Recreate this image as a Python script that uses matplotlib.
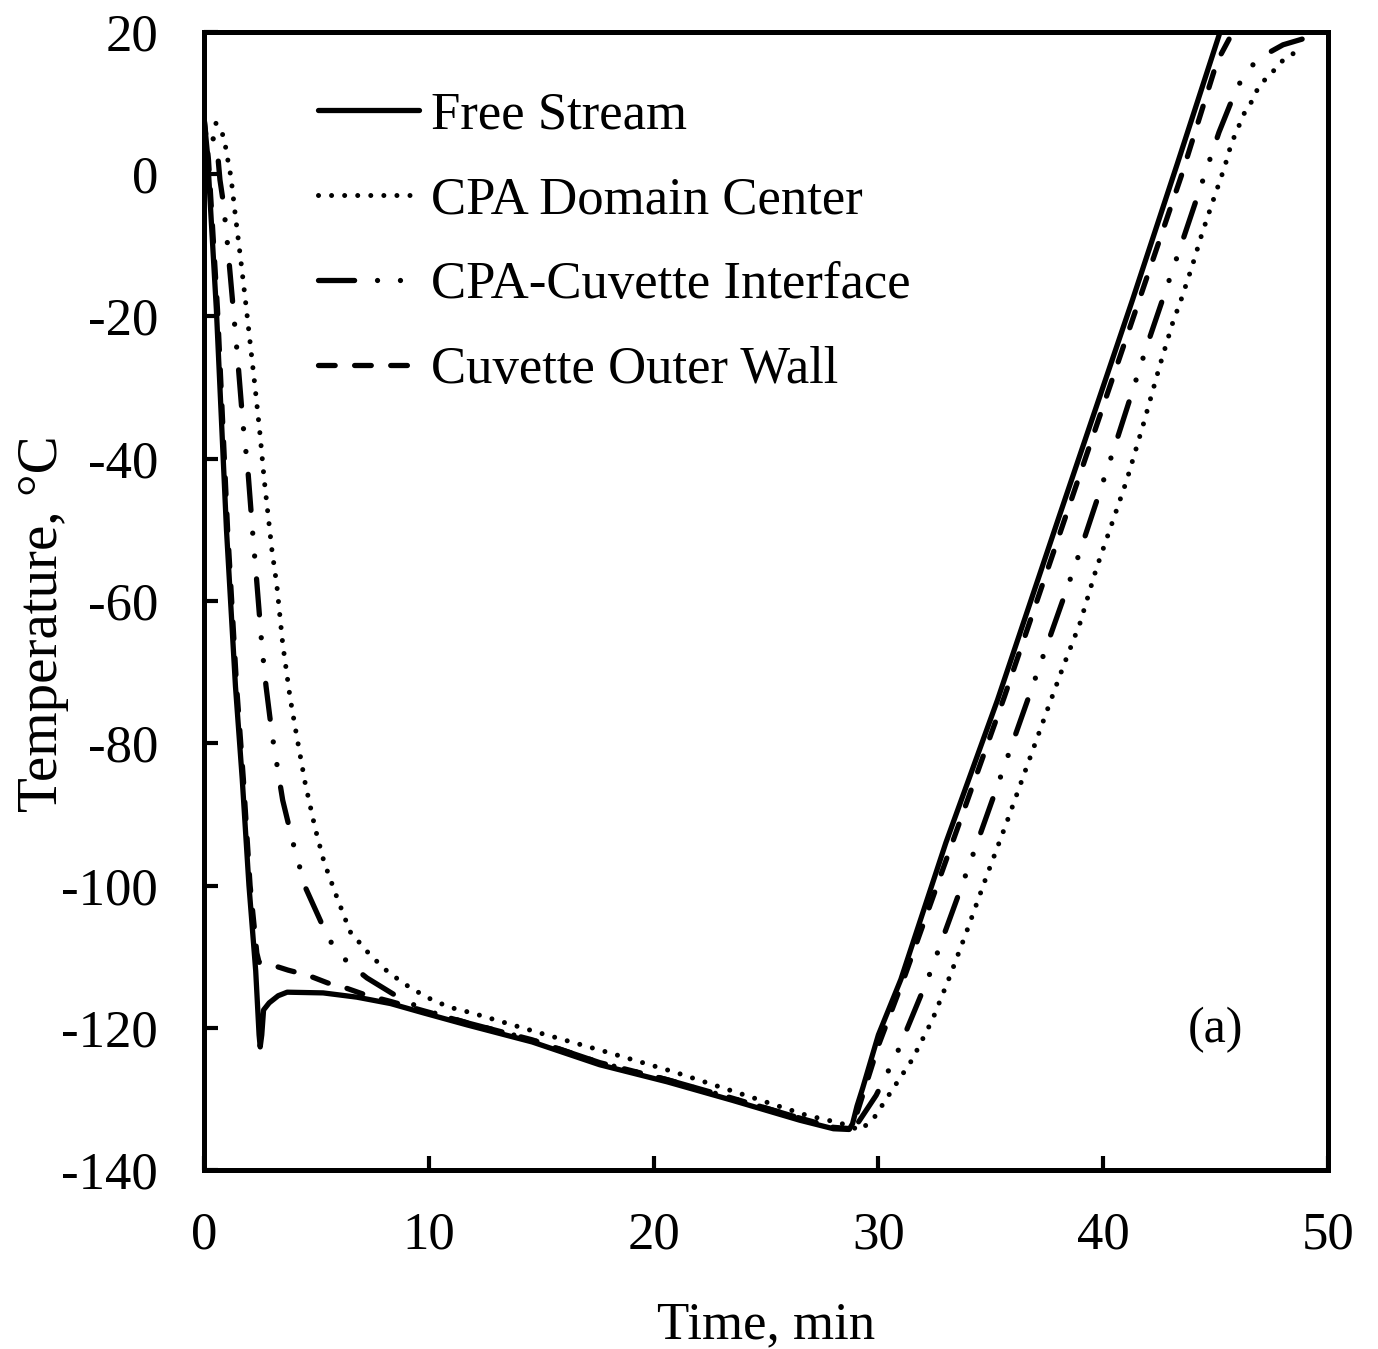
import numpy as np
import matplotlib
matplotlib.use("Agg")
import matplotlib.pyplot as plt
from matplotlib.lines import Line2D

# Free Stream (solid)
t_free = [0, 0.15, 0.55, 1.0, 1.4, 1.7, 2.0, 2.3, 2.45, 2.5, 2.57, 2.65, 2.9, 3.3, 3.7,
          5.3, 6.8, 8.3, 9.75, 11.7, 14.6, 17.6, 20.6, 23.5, 26.5, 28.0, 28.7, 28.85,
          29.05, 29.3, 30.0, 31.0, 33.0, 35.3, 38.0, 41.3, 43.3, 45.2, 45.8]
T_free = [8, 3, -19, -50, -72, -85, -100, -112, -121, -122.7, -121, -117.5, -116.5, -115.5, -115,
          -115.1, -115.7, -116.6, -117.9, -119.6, -122, -125.2, -127.6, -130.2, -133, -134.2, -134.3, -133.5,
          -131, -128.5, -121, -113.2, -94, -73.9, -48.5, -17.7, 1.5, 20, 26]

# CPA Domain Center (dotted)
t_center = [0, 0.5, 0.8, 0.93, 1.02, 1.2, 1.38, 1.63, 1.87, 2.27, 2.49, 2.68, 3.02, 3.24, 3.5,
            3.83, 4.13, 4.5, 4.94, 5.34, 5.87, 6.5, 7.4, 8.2, 9.0, 9.9, 10.9, 11.9, 14.9,
            17.9, 20.9, 23.8, 26.8, 28.3, 29.2, 29.8, 30.6, 31.5, 32.4, 33.2, 33.9, 34.8,
            35.7, 36.6, 37.55, 38.2, 38.97, 39.7, 40.4, 41.05, 41.8, 42.5, 43.1, 43.46, 43.95,
            44.4, 44.9, 45.4, 45.7, 46.3, 46.6, 46.8, 47.1, 47.5, 47.8, 48.2, 48.75]
T_center = [7.8, 7.3, 5.9, 4.4, 2.7, -0.4, -5.4, -11.9, -18.5, -29.9, -36.5, -43, -52.8, -57.8, -66,
            -73.6, -79.1, -85.6, -91.9, -96.7, -101.3, -106.5, -109.8, -112.2, -114, -115.7, -117.1, -117.9, -120.7,
            -123.4, -126.2, -129.2, -132.3, -133.4, -134.4, -132.7, -128.8, -124.5, -118.9, -112.6, -106.7, -98.8,
            -91.2, -83.3, -75, -69.4, -63.1, -55.4, -49, -43, -35, -27.1, -20.8, -17.7, -13,
            -8.3, -3.6, 1.0, 4.3, 8.75, 10.2, 11.6, 13, 14.2, 15.5, 16.5, 17.5]

# CPA-Cuvette Interface (dash-dot-dot)
t_interface = [0, 0.3, 0.62, 0.71, 0.86, 1.05, 1.5, 1.73, 1.95, 2.18, 2.34, 2.58, 2.76, 3.02, 3.5,
               3.96, 4.5, 5.3, 5.74, 6.45, 7.25, 8.85, 10.0, 11.7, 14.6, 17.6, 20.6, 23.5, 26.5,
               28.3, 29.0, 29.9, 30.8, 32.3, 34.0, 35.65, 37.3, 38.95, 40.5, 42.0, 43.6, 45.15,
               45.9, 46.4, 47.2, 48.0, 48.85]
T_interface = [8, 6.3, 2.4, -0.8, -4, -10, -26, -35, -41.5, -51, -57, -66.5, -72, -78.6, -88,
               -94, -100.2, -105.8, -108.5, -111, -113, -116.1, -117.7, -119.3, -121.7, -124.9, -127.3, -129.9, -132.7,
               -134.2, -133.8, -129.5, -123.8, -112.3, -97.5, -82.8, -68, -53.2, -38.4, -23.6, -8.7, 5.9,
               11.8, 14.7, 16.8, 18.2, 19]

# Cuvette Outer Wall (dashed)
t_wall = [0, 0.2, 0.6, 1.05, 1.45, 1.75, 2.05, 2.35, 2.45, 2.85, 3.74, 4.6, 5.5, 6.3, 7.2,
          8.3, 9.75, 11.7, 14.6, 17.6, 20.6, 23.5, 26.5, 28.0, 28.8, 29.1, 30.0, 31.2,
          35.6, 41.6, 43.5, 45.06, 45.6, 46.4]
T_wall = [8, 2, -19, -50, -72, -85, -100, -109.5, -110.8, -111, -111.9, -112.6, -113.7, -114.4, -115.4,
          -116.3, -117.6, -119.3, -121.7, -124.9, -127.3, -129.9, -132.7, -134, -134.2, -131.5, -122.5, -112.5,
          -73.5, -17.7, 0, 15.8, 19, 19.6]

plt.rcParams['font.family'] = ['Liberation Serif', 'DejaVu Serif']
plt.rcParams['lines.scale_dashes'] = False
plt.rcParams['axes.unicode_minus'] = False

fig = plt.figure(figsize=(13.78, 13.49), dpi=100)
ax = fig.add_axes([0.14804, 0.13269, 0.81567, 0.84359])
ax.set_xlim(0, 50)
ax.set_ylim(-140, 20)

dotted = (0.01, 9.4)
dashdot = (26, 16.5, 0.01, 16.5, 0.01, 16.5)
dashed = (12, 14)

# shift the dash-dot pattern so that the curve ends on a dash
pts = ax.transData.transform(np.column_stack([t_interface, T_interface]))
path_len = np.sum(np.hypot(*np.diff(pts, axis=0).T)) * 72.0 / fig.dpi
period = sum(dashdot)
dd_offset = (24 - path_len) % period

ax.plot(t_center, T_center, color='black', lw=3.6, linestyle=(0, dotted),
        dash_capstyle='round', zorder=2)
ax.plot(t_interface, T_interface, color='black', lw=3.8,
        linestyle=(dd_offset, dashdot), dash_capstyle='round', zorder=3)
ax.plot(t_wall, T_wall, color='black', lw=3.8, linestyle=(0, dashed),
        dash_capstyle='round', zorder=4)
ax.plot(t_free, T_free, color='black', lw=3.8, solid_capstyle='round', zorder=5)

ax.set_xticks(np.arange(0, 51, 10))
ax.set_yticks(np.arange(-140, 21, 20))
ax.tick_params(direction='in', length=10, width=3, labelsize=38)
ax.tick_params(axis='x', pad=30)
ax.tick_params(axis='y', pad=33)
for s in ax.spines.values():
    s.set_linewidth(3.6)

ax.set_xlabel('Time, min', fontsize=38, labelpad=30)
ax.set_ylabel('Temperature, \u00b0C', fontsize=41)
ax.yaxis.set_label_coords(-0.12, 0.48)

handles = [
    Line2D([], [], color='black', lw=3.8, solid_capstyle='round'),
    Line2D([], [], color='black', lw=3.6, linestyle=(0, dotted), dash_capstyle='round'),
    Line2D([], [], color='black', lw=3.8, linestyle=(0, dashdot), dash_capstyle='round'),
    Line2D([], [], color='black', lw=3.8, linestyle=(0, dashed), dash_capstyle='round'),
]
labels = ['Free Stream', 'CPA Domain Center', 'CPA-Cuvette Interface', 'Cuvette Outer Wall']
ax.legend(handles, labels, loc='upper left', bbox_to_anchor=(0.101, 0.948), frameon=False,
          fontsize=38, handlelength=1.93, handletextpad=0.22,
          borderpad=0, borderaxespad=0, labelspacing=0.70)

ax.text(45.0, -120.3, '(a)', fontsize=36, ha='center', va='center')

fig.savefig('out.png', dpi=100)
